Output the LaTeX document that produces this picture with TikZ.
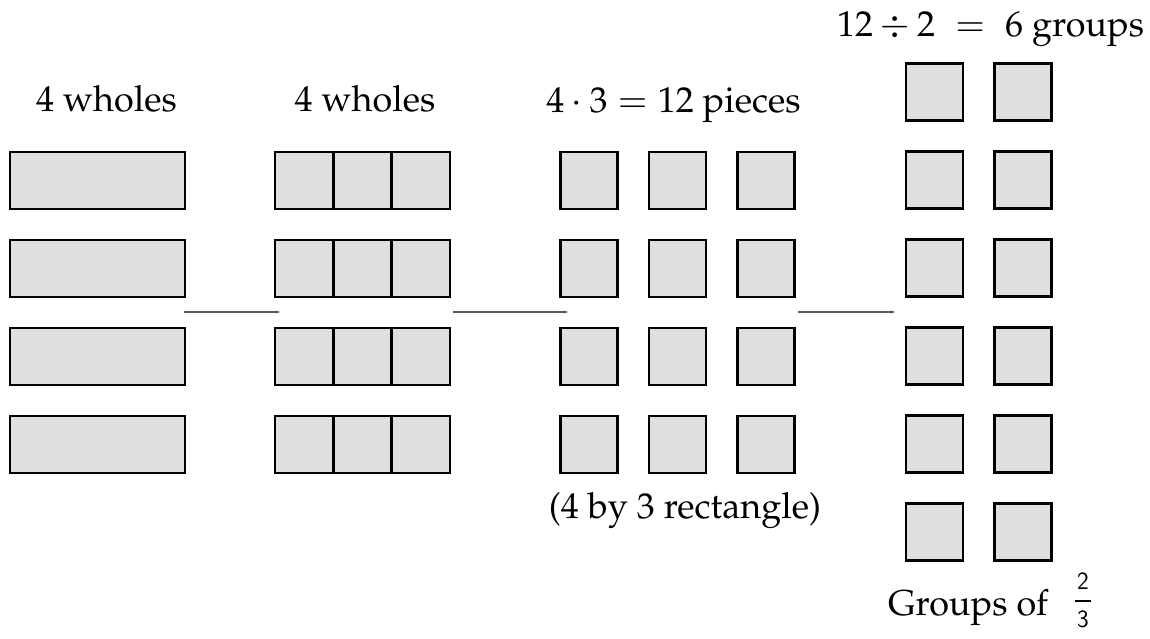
\documentclass[tikz,border=0pt]{standalone}
\usepackage[T1]{fontenc}
\usepackage{mathpazo}
\usetikzlibrary{arrows.meta}
\definecolor{boxgray}{HTML}{DFDFDF}
\definecolor{linkgray}{HTML}{5A5A5A}
% a stacked fraction with sans digits and a fixed bar
\newcommand\stackfrac[2]{\vbox{\fontsize{28}{32}\usefont{OT1}{cmss}{m}{n}%
  \halign{\hfil\kern2.5pt##\kern2.5pt\hfil\cr
    #1\cr
    \noalign{\kern10pt\hrule height 2.2pt\kern9pt}
    #2\cr}}}
\tikzset{
  piece/.style={draw=black, line width=2.4pt, fill=boxgray, rectangle,
                inner sep=0pt, minimum height=57pt},
  whole/.style={piece, minimum width=175pt},
  third/.style={piece, minimum width=58.3pt},
  sq/.style={piece, minimum width=57pt},
  label/.style={inner sep=0pt, anchor=base, font=\fontsize{36}{42}\selectfont},
  link/.style={draw=linkgray, line width=1.1pt,
               -{Stealth[length=4pt,width=3pt]}}
}
\begin{document}
\begin{tikzpicture}[x=1pt, y=-1pt]
  \useasboundingbox (0,0) rectangle (1150,639);

  % headings
  \node[label] (h1) at (106.5,112) {4 wholes};
  \node[label] (h2) at (365,112) {4 wholes};
  \node[label] (h3) at (673.5,113) {$4\cdot 3 = 12$ pieces};
  \node[label] (h4) at (990.5,37) {$12 \div 2\;=\;6$ groups};
  \node[label] (n3) at (685,518) {(4 by 3 rectangle)};
  \node[label, anchor=base west] (n4) at (888,615) {Groups of};
  \node[inner sep=0pt, anchor=north] (fr) at (1083,573) {\stackfrac{2}{3}};

  % column 1: four wholes
  \foreach \r/\y in {1/180.5, 2/268.5, 3/356.5, 4/444.5}
    \node[whole] (w\r) at (97.5,\y) {};

  % column 2: each whole cut into thirds
  \foreach \r/\y in {1/180.5, 2/268.5, 3/356.5, 4/444.5}
    \foreach \c/\x in {1/304.2, 2/362.5, 3/420.8}
      \node[third] (t\r\c) at (\x,\y) {};

  % column 3: twelve separate pieces
  \foreach \r/\y in {1/180.5, 2/268.5, 3/356.5, 4/444.5}
    \foreach \c/\x in {1/589, 2/677.5, 3/766}
      \node[sq] (p\r\c) at (\x,\y) {};

  % column 4: six groups of two pieces
  \foreach \r/\y in {1/92, 2/180, 3/268, 4/356, 5/444, 6/532}
    \foreach \c/\x in {1/934.5, 2/1023}
      \node[sq] (g\r\c) at (\x,\y) {};

  % connectors between the stages
  \coordinate (a1s) at (184,312);
  \coordinate (a1e) at (280,312);
  \coordinate (a2s) at (453,312);
  \coordinate (a2e) at (568,312);
  \coordinate (a3s) at (798,312);
  \coordinate (a3e) at (895,312);
  \draw[link] (a1s) -- (a1e);
  \draw[link] (a2s) -- (a2e);
  \draw[link] (a3s) -- (a3e);
\end{tikzpicture}
\end{document}
